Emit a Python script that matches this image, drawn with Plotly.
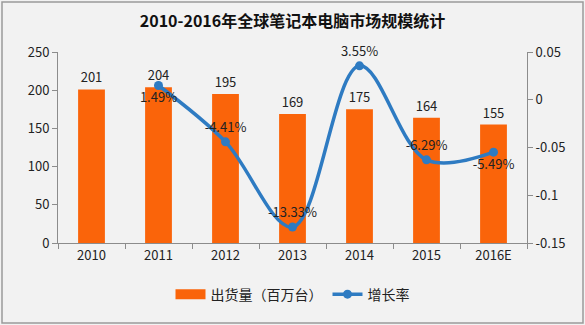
import plotly.graph_objects as go

years = ["2010", "2011", "2012", "2013", "2014", "2015", "2016E"]
shipments = [201, 204, 195, 169, 175, 164, 155]
growth_years = ["2011", "2012", "2013", "2014", "2015", "2016E"]
growth = [0.0149, -0.0441, -0.1333, 0.0355, -0.0629, -0.0549]
growth_labels = ["1.49%", "-4.41%", "-13.33%", "3.55%", "-6.29%", "-5.49%"]
growth_pos = ["bottom center", "top center", "top center", "top center", "top center", "bottom center"]

FONT = "Noto Sans CJK SC"
BAR = "#FA640A"
LINE = "#2E7BC2"

fig = go.Figure()
fig.add_trace(go.Bar(
    x=years, y=shipments, name="出货量（百万台）", showlegend=False,
    marker=dict(color=BAR, line=dict(width=0)), width=0.4,
    text=[str(v) for v in shipments], textposition="outside",
    textfont=dict(family=FONT, size=13, color="#222"), cliponaxis=False,
))
# legend entry for bars drawn as a wide rectangle
fig.add_trace(go.Scatter(
    x=[None], y=[None], name="出货量（百万台）", mode="lines",
    line=dict(color=BAR, width=10),
))
fig.add_trace(go.Scatter(
    x=growth_years, y=growth, name="增长率", yaxis="y2",
    mode="lines+markers+text",
    line=dict(color=LINE, width=3.5, shape="spline", smoothing=1.0),
    marker=dict(color=LINE, size=9),
    text=growth_labels, textposition=growth_pos,
    textfont=dict(family=FONT, size=13, color="#222"), cliponaxis=False,
))

fig.update_layout(
    width=585, height=325,
    margin=dict(l=58, r=58, t=52, b=82),
    paper_bgcolor="#F2F2F2", plot_bgcolor="#F2F2F2",
    font=dict(family=FONT, size=13, color="#222"),
    title=dict(text="<b>2010-2016年全球笔记本电脑市场规模统计</b>", x=0.5, xanchor="center",
               y=0.935, yanchor="middle", font=dict(family=FONT, size=16, color="#111")),
    bargap=0.6,
    showlegend=True,
    legend=dict(orientation="h", x=0.5, xanchor="center", y=-0.27, yanchor="middle",
                font=dict(family=FONT, size=14, color="#222"), bgcolor="rgba(0,0,0,0)",
                itemwidth=30),
    xaxis=dict(type="category", showgrid=False, showline=True, linecolor="#8C8C8C", linewidth=1,
               ticks="outside", tickson="boundaries", ticklen=5, tickcolor="#8C8C8C",
               tickfont=dict(family=FONT, size=13, color="#222")),
    yaxis=dict(range=[0, 250], dtick=50, showgrid=False, showline=True, linecolor="#8C8C8C",
               ticks="outside", ticklen=5, tickcolor="#8C8C8C", zeroline=False,
               tickfont=dict(family=FONT, size=13, color="#222")),
    yaxis2=dict(range=[-0.15, 0.05], tickvals=[0.05, 0, -0.05, -0.1, -0.15],
                ticktext=["0.05", "0", "-0.05", "-0.1", "-0.15"],
                overlaying="y", side="right", showgrid=False, showline=True, linecolor="#8C8C8C",
                ticks="outside", ticklen=5, tickcolor="#8C8C8C", zeroline=False,
                tickfont=dict(family=FONT, size=13, color="#222")),
    shapes=[dict(type="rect", xref="paper", yref="paper",
                 x0=-56/469, x1=1+56/469, y0=-80/191, y1=1+50/191,
                 line=dict(color="#9A9A9A", width=1.5), fillcolor="rgba(0,0,0,0)", layer="below")],
)

fig.write_html("out.html")
